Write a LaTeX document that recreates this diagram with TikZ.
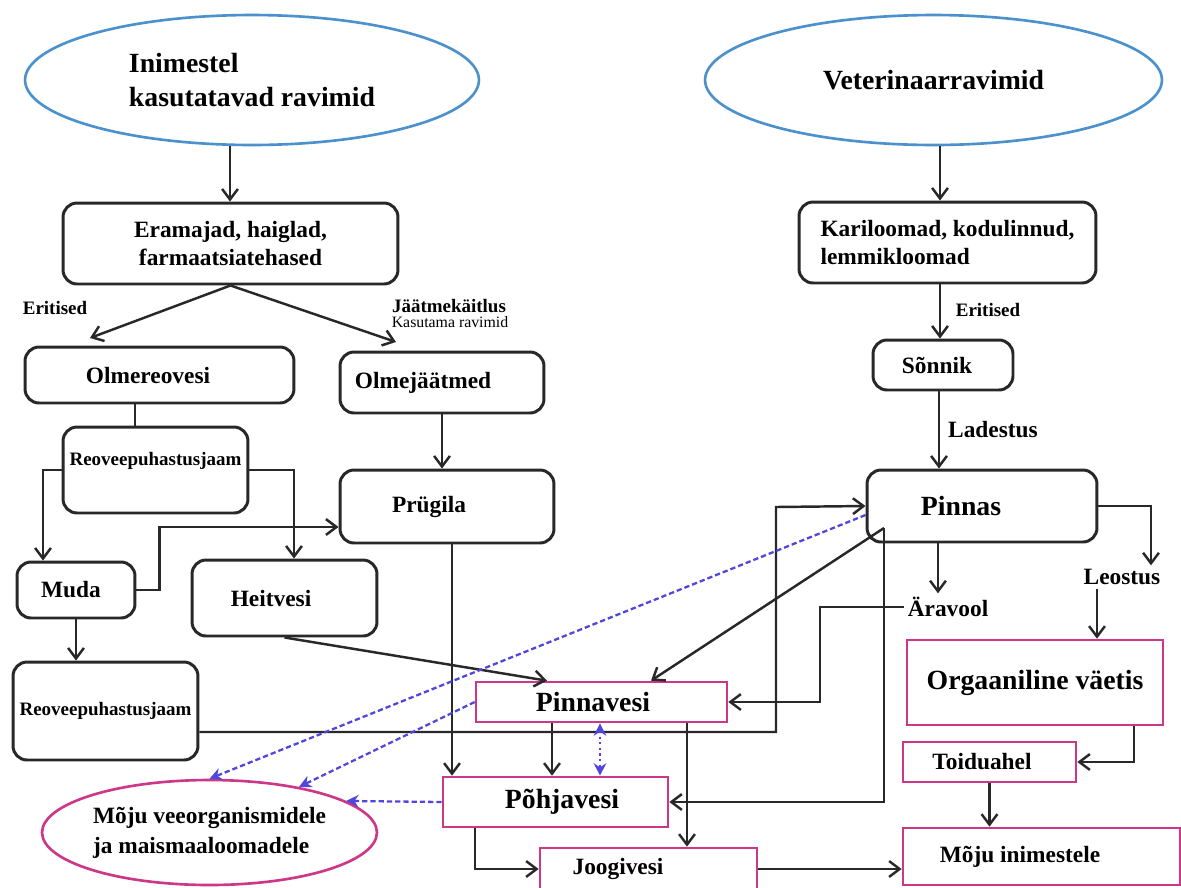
\documentclass[tikz,border=0pt]{standalone}
\usepackage{fontspec}
\setmainfont{Liberation Serif}
\usetikzlibrary{shapes.geometric,arrows.meta}

\definecolor{tume}{RGB}{40,40,40}
\definecolor{roosa}{RGB}{205,55,135}
\definecolor{sinine}{RGB}{75,145,205}
\definecolor{lilla}{RGB}{80,70,220}

\begin{document}
\begin{tikzpicture}[x=0.02cm,y=-0.02cm,
    suur/.style={font=\fontsize{15.8}{19}\selectfont\bfseries},
    kesk/.style={font=\fontsize{13.3}{16}\selectfont\bfseries},
    vaike/.style={font=\fontsize{10.8}{13}\selectfont\bfseries},
    kast/.style={draw=tume,line width=1.7pt,rounded corners=8pt,kesk,inner sep=0pt},
    roosakast/.style={draw=roosa,line width=1.5pt,kesk,inner sep=0pt},
    allikas/.style={ellipse,draw=sinine,line width=1.5pt,suur,inner sep=0pt},
    silt/.style={kesk,inner sep=2pt},
    nool/.style={draw=tume,line width=1.4pt,-{Straight Barb[length=6pt,width=9pt]}},
    mojunool/.style={draw=lilla,line width=1.3pt,dash pattern=on 3pt off 1.7pt,
      -{Stealth[length=7pt,width=7pt]}}]

      \useasboundingbox (0,0) rectangle (1181,887);

      % allikad
      \node[allikas,minimum width=9.08cm,minimum height=2.6cm,align=left] (inim) at (252,80)
        {Inimestel\\kasutatavad ravimid};
      \node[allikas,minimum width=9.14cm,minimum height=2.6cm] (vet) at (933.5,80)
        {Veterinaarravimid};

      % vasak haru
      \node[kast,minimum width=6.7cm,minimum height=1.62cm,align=center] (erama) at (230.5,243.5)
        {Eramajad, haiglad,\\farmaatsiatehased};
      \node[kast,minimum width=5.38cm,minimum height=1.12cm] (olmereo) at (159.5,375)
        {Olmereovesi\kern0.46cm};
      \node[kast,minimum width=4.08cm,minimum height=1.22cm] (olmejaat) at (442,382.5)
        {Olmejäätmed\kern0.76cm};
      \node[kast,vaike,minimum width=3.7cm,minimum height=1.72cm,text depth=0.45cm] (puhastus) at (155.5,470)
        {Reoveepuhastusjaam};
      \node[kast,minimum width=4.28cm,minimum height=1.46cm] (prugila) at (447,506.5)
        {Prügila\kern0.72cm};
      \node[kast,minimum width=2.36cm,minimum height=1.12cm] (muda) at (76,590)
        {Muda\kern0.2cm};
      \node[kast,minimum width=3.7cm,minimum height=1.52cm] (heitvesi) at (284.5,598)
        {Heitvesi\kern0.54cm};
      \node[kast,vaike,minimum width=3.7cm,minimum height=1.96cm] (puhastus2) at (105.5,711)
        {Reoveepuhastusjaam};

      % parem haru
      \node[kast,minimum width=5.94cm,minimum height=1.62cm,align=left] (kari) at (947.5,242.5)
        {Kariloomad, kodulinnud,\\lemmikloomad};
      \node[kast,minimum width=2.8cm,minimum height=1cm] (sonnik) at (943,365)
        {Sõnnik\kern0.24cm};
      \node[kast,suur,minimum width=4.6cm,minimum height=1.44cm] (pinnas) at (982,506)
        {Pinnas\kern0.84cm};

      % vesi ja moju
      \node[roosakast,suur,minimum width=5.02cm,minimum height=0.8cm] (pinnavesi) at (601.5,702)
        {Pinnavesi\kern0.34cm};
      \node[roosakast,suur,minimum width=4.5cm,minimum height=1cm] (pohjavesi) at (555.5,802)
        {\kern0.26cm Põhjavesi};
      \node[roosakast,minimum width=4.34cm,minimum height=0.84cm] (joogivesi) at (648.5,869)
        {Joogivesi\kern1.22cm};
      \node[roosakast,suur,minimum width=5.12cm,minimum height=1.7cm] (orgaan) at (1035,682.5)
        {Orgaaniline väetis};
      \node[roosakast,minimum width=3.46cm,minimum height=0.8cm] (toiduahel) at (989.5,762)
        {Toiduahel\kern0.3cm};
      \node[roosakast,minimum width=5.54cm,minimum height=1.14cm] (mojuinim) at (1041.5,856.5)
        {Mõju inimestele\kern0.86cm};
      \node[ellipse,draw=roosa,line width=1.5pt,kesk,inner sep=0pt,minimum width=6.7cm,
        minimum height=2.1cm,align=left] (mojuvee) at (209.5,832.5)
        {Mõju veeorganismidele\\[1pt]ja maismaaloomadele};

      % sildid
      \node[silt,vaike] (eritised) at (55,308) {Eritised};
      \node[silt,vaike] (jaatme) at (449,306) {Jäätmekäitlus};
      \node[font=\fontsize{9}{10}\selectfont,inner sep=0pt] (kasutama) at (450,322) {Kasutama ravimid};
      \node[silt,vaike] (eritised2) at (988,310) {Eritised};
      \node[silt] (ladestus) at (993,430) {Ladestus};
      \node[silt] (aravool) at (948,607) {Äravool};
      \node[silt] (leostus) at (1122,577) {Leostus};

      \coordinate (tipp1) at (90,338);
      \coordinate (tipp2) at (396,342);
      \coordinate (pinnasjalg) at (884,528);

      % nooled
      \draw[nool] (inim.south -| 230,0) -- (erama.north -| 230,0);
      \draw[nool] (erama.south) -- (tipp1);
      \draw[nool] (erama.south) -- (tipp2);
      \draw[draw=tume,line width=1.4pt] (olmereo.south -| 135,0) -- (puhastus.north -| 135,0);
      \draw[nool] (puhastus.west) -| (muda.north -| 43,0);
      \draw[nool] (puhastus.east) -| (heitvesi.north -| 294,0);
      \draw[nool] (olmejaat.south) -- (olmejaat.south |- prugila.north);
      \draw[nool] (muda.east) -- ++(23,0) |- (prugila.west |- 0,527);
      \draw[nool] (muda.south) -- (muda.south |- puhastus2.north);
      \draw[nool] (heitvesi.south) -- (pinnavesi.north -| 547,0);
      \draw[nool] (prugila.south -| 452,0) -- (pohjavesi.north -| 452,0);
      \draw[nool] (puhastus2.east |- 0,732) -| (776,507) -- (pinnas.west);

      \draw[nool] (vet.south -| 940,0) -- (kari.north -| 940,0);
      \draw[nool] (kari.south -| 940,0) -- (sonnik.north -| 940,0);
      \draw[nool] (sonnik.south -| 939,0) -- (pinnas.north -| 939,0);
      \draw[nool] (pinnasjalg) -- (pinnavesi.north -| 651,0);
      \draw[nool] (pinnasjalg) |- (pohjavesi.east);
      \draw[nool] (pinnas.south -| 938,0) -- (aravool.north -| 938,0);
      \draw[nool] (aravool.west) -| (820,702) -- (pinnavesi.east);
      \draw[nool] (pinnas.east) -| (leostus.north -| 1151,0);
      \draw[nool] (leostus.south -| 1097,0) -- (orgaan.north -| 1097,0);
      \draw[nool] (orgaan.south -| 1134,0) |- (toiduahel.east);
      \draw[nool] (toiduahel.south) -- (toiduahel.south |- mojuinim.north);

      \draw[nool] (pinnavesi.south -| 552,0) -- (pohjavesi.north -| 552,0);
      \draw[nool] (pinnavesi.south -| 687,0) -- (joogivesi.north -| 687,0);
      \draw[nool] (pohjavesi.south -| 475,0) |- (joogivesi.west);
      \draw[nool] (joogivesi.east) -- (joogivesi.east -| mojuinim.west);

      \draw[draw=lilla,line width=1.2pt,dotted,{Stealth[length=7pt,width=7pt]}-{Stealth[length=7pt,width=7pt]}]
        (pinnavesi.south -| 600,0) -- (pohjavesi.north -| 600,0);
      \draw[mojunool] (pinnas.west |- 0,515) -- (mojuvee.north);
      \draw[mojunool] (pinnavesi.west) -- (mojuvee.27);
      \draw[mojunool] (pohjavesi.west) -- (mojuvee.13);
\end{tikzpicture}
\end{document}
